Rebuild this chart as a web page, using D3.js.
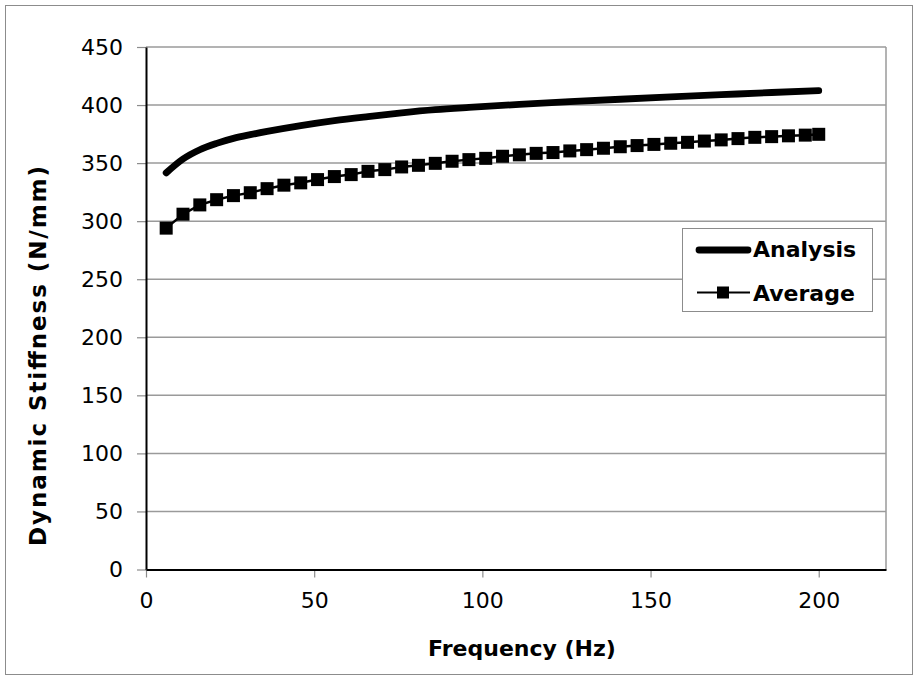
<!DOCTYPE html>
<html>
<head>
<meta charset="utf-8">
<script src="https://cdn.jsdelivr.net/npm/d3@7"></script>
<style>
  html, body { margin: 0; padding: 0; background: #fff; }
  svg { display: block; font-family: "DejaVu Sans", Verdana, sans-serif; }
</style>
</head>
<body>
<svg id="chart" width="918" height="680"></svg>
<script>
// Measured average dynamic stiffness (markers every 5 Hz)
const avgFreq = [6, 11, 16, 21, 26, 31, 36, 41, 46, 51, 56, 61, 66, 71, 76, 81, 86, 91, 96, 101,
                 106, 111, 116, 121, 126, 131, 136, 141, 146, 151, 156, 161, 166, 171, 176, 181, 186, 191, 196, 200];
const avgValues = [294, 306, 314, 318.5, 322, 324.5, 328, 331, 333, 335.8, 338.4, 340.1, 342.9, 344.4, 346.7, 348.1, 349.8, 351.6, 353, 354.1,
                   355.9, 357.1, 358.4, 359.1, 360.5, 361.6, 362.8, 364.1, 365.1, 366.1, 367.1, 367.9, 369, 370, 371.1, 372.2, 372.8, 373.5, 374.1, 374.8];

// Analytical prediction
const anaFreq = [6, 11, 16, 21, 26, 31, 36, 46, 56, 66, 76, 86, 96, 111, 126, 141, 156, 171, 186, 200];
const anaValues = [341.6, 353.5, 361.5, 367, 371.3, 374.5, 377.3, 382.3, 386.6, 390.1, 393.3, 396.0, 398.0, 400.6, 402.9, 405.0, 407.0, 408.9, 410.8, 412.5];

const xTicks = [0, 50, 100, 150, 200];
const yTicks = [0, 50, 100, 150, 200, 250, 300, 350, 400, 450];
const seriesNames = ["Analysis", "Average"];

const svg = d3.select("#chart");
const plotLeft = 146, plotRight = 886, plotTop = 47, plotBottom = 569.5;
const x = d3.scaleLinear().domain([0, 220]).range([plotLeft, plotRight]);
const y = d3.scaleLinear().domain([0, 450]).range([plotBottom, plotTop]);

// chart frame
svg.append("rect")
  .attr("x", 5.5).attr("y", 5.5).attr("width", 907).attr("height", 669)
  .attr("fill", "#fff").attr("stroke", "#8c8c8c").attr("stroke-width", 1);

// horizontal gridlines
svg.append("g").selectAll("line").data(yTicks.filter(d => d > 0)).join("line")
  .attr("x1", plotLeft).attr("x2", plotRight)
  .attr("y1", d => y(d)).attr("y2", d => y(d))
  .attr("stroke", "#9a9a9a").attr("stroke-width", 1.5);

// right border of plot area
svg.append("line")
  .attr("x1", plotRight).attr("x2", plotRight).attr("y1", plotTop).attr("y2", plotBottom)
  .attr("stroke", "#9a9a9a").attr("stroke-width", 1.5);

// axes
const yAxis = svg.append("g").attr("transform", `translate(${plotLeft},0)`)
  .call(d3.axisLeft(y).tickValues(yTicks).tickSize(9).tickPadding(14).tickSizeOuter(0));
const xAxis = svg.append("g").attr("transform", `translate(0,${plotBottom})`)
  .call(d3.axisBottom(x).tickValues(xTicks).tickSize(8).tickPadding(15).tickSizeOuter(0));

[yAxis, xAxis].forEach(g => {
  g.select(".domain").attr("stroke", "#000").attr("stroke-width", 2);
  g.selectAll(".tick line").attr("stroke", "#8c8c8c").attr("stroke-width", 1.2);
  g.selectAll(".tick text").attr("fill", "#000").style("font-size", "22px")
    .style("font-family", "'DejaVu Sans', Verdana, sans-serif");
});
xAxis.select(".domain").raise();
yAxis.select(".domain").raise();

// axis titles
svg.append("text")
  .attr("x", 522).attr("y", 656)
  .attr("text-anchor", "middle")
  .style("font-size", "22px").style("font-weight", "bold")
  .text("Frequency (Hz)");

svg.append("text")
  .attr("transform", "translate(46,356) rotate(-90)")
  .attr("text-anchor", "middle")
  .attr("textLength", 380).attr("lengthAdjust", "spacing")
  .style("font-size", "23px").style("font-weight", "bold")
  .text("Dynamic Stiffness (N/mm)");

// Analysis curve
const anaData = anaFreq.map((f, i) => [f, anaValues[i]]);
svg.append("path")
  .datum(anaData)
  .attr("fill", "none").attr("stroke", "#000")
  .attr("stroke-width", 6.8).attr("stroke-linecap", "round").attr("stroke-linejoin", "round")
  .attr("d", d3.line().x(d => x(d[0])).y(d => y(d[1])).curve(d3.curveMonotoneX));

// Average series: thin line + square markers
const avgData = avgFreq.map((f, i) => [f, avgValues[i]]);
svg.append("path")
  .datum(avgData)
  .attr("fill", "none").attr("stroke", "#000").attr("stroke-width", 2.5)
  .attr("d", d3.line().x(d => x(d[0])).y(d => y(d[1])));

const ms = 13;
svg.append("g").selectAll("rect").data(avgData).join("rect")
  .attr("x", d => x(d[0]) - ms / 2).attr("y", d => y(d[1]) - ms / 2)
  .attr("width", ms).attr("height", ms)
  .attr("fill", "#000");

// legend
const legend = svg.append("g");
legend.append("rect")
  .attr("x", 682.5).attr("y", 228.5).attr("width", 190).attr("height", 83)
  .attr("fill", "#fff").attr("stroke", "#8c8c8c").attr("stroke-width", 1);

legend.append("line")
  .attr("x1", 699).attr("x2", 748).attr("y1", 250).attr("y2", 250)
  .attr("stroke", "#000").attr("stroke-width", 6.8).attr("stroke-linecap", "round");
legend.append("text")
  .attr("x", 753).attr("y", 257)
  .style("font-size", "22px").style("font-weight", "bold")
  .text(seriesNames[0]);

legend.append("line")
  .attr("x1", 697).attr("x2", 750).attr("y1", 292.5).attr("y2", 292.5)
  .attr("stroke", "#000").attr("stroke-width", 2);
legend.append("rect")
  .attr("x", 723 - 6).attr("y", 292.5 - 6).attr("width", 12).attr("height", 12)
  .attr("fill", "#000");
legend.append("text")
  .attr("x", 753).attr("y", 300.5)
  .style("font-size", "22px").style("font-weight", "bold")
  .text(seriesNames[1]);
</script>
</body>
</html>
